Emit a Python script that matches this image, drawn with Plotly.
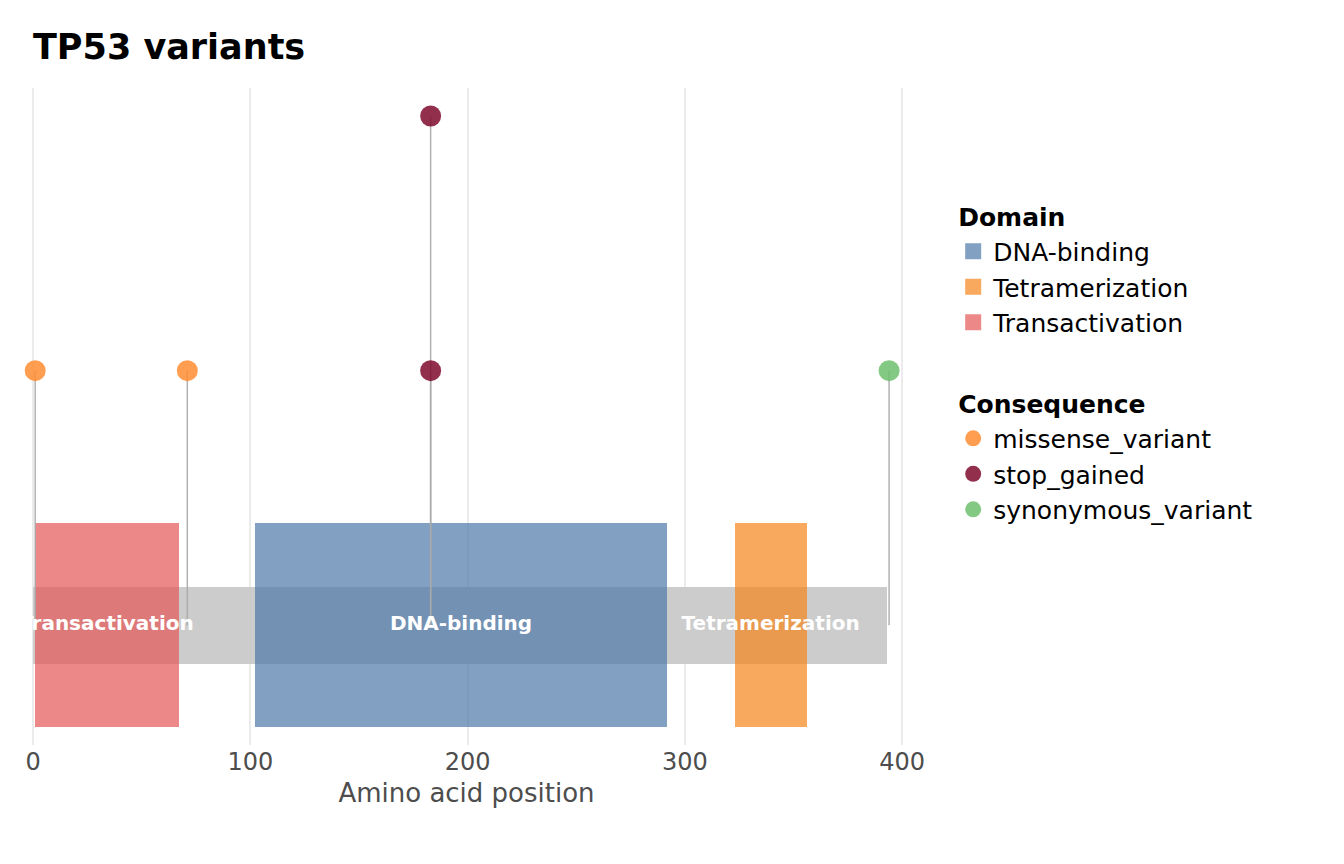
import plotly.graph_objects as go

protein_length = 393
domain_names = ["Transactivation", "DNA-binding", "Tetramerization"]
domain_start = [1, 102, 323]
domain_end = [67, 292, 356]
domain_colors = {"DNA-binding": "#4C78A8", "Tetramerization": "#F58518", "Transactivation": "#E45756"}

var_pos = [1, 71, 183, 183, 394]
var_height = [1, 1, 1, 2, 1]
var_cons = ["missense_variant", "missense_variant", "stop_gained", "stop_gained", "synonymous_variant"]
cons_colors = {"missense_variant": "#FF8C33", "stop_gained": "#7F0A2E", "synonymous_variant": "#6DBF6D"}

fig = go.Figure()

# protein backbone
fig.add_trace(go.Bar(x=[protein_length / 2], y=[0.3], base=[-0.15], width=[protein_length],
                     marker=dict(color="#CCCCCC", line_width=0), showlegend=False, hoverinfo="skip"))

# domains
for name, s, e in zip(domain_names, domain_start, domain_end):
    fig.add_trace(go.Bar(x=[(s + e) / 2], y=[0.8], base=[-0.4], width=[e - s],
                         marker=dict(color=domain_colors[name], opacity=0.7, line_width=0),
                         showlegend=False, hoverinfo="skip"))

# legend entries for domains
for i, name in enumerate(sorted(domain_names)):
    fig.add_trace(go.Scatter(x=[None], y=[None], mode="markers", name=name,
                             marker=dict(color=domain_colors[name], opacity=0.7, symbol="square", size=30),
                             legendgroup="domain", legendrank=i,
                             legendgrouptitle=dict(text="<b>Domain</b>") if i == 0 else None))

# stems
for p, h in zip(var_pos, var_height):
    fig.add_trace(go.Scatter(x=[p, p], y=[0, h], mode="lines", line=dict(color="#AAAAAA", width=1.5),
                             showlegend=False, hoverinfo="skip", opacity=0.9))

# points
for i, c in enumerate(cons_colors):
    xs = [p for p, k in zip(var_pos, var_cons) if k == c]
    ys = [h for h, k in zip(var_height, var_cons) if k == c]
    fig.add_trace(go.Scatter(x=xs, y=ys, mode="markers", name=c, cliponaxis=False,
                             marker=dict(color=cons_colors[c], size=21, opacity=0.85),
                             legendgroup="cons", legendrank=10 + i,
                             legendgrouptitle=dict(text="<b>Consequence</b>") if i == 0 else None))

# domain labels
fig.add_trace(go.Scatter(x=[(s + e) / 2 for s, e in zip(domain_start, domain_end)], y=[0] * 3,
                         mode="text", text=["<b>%s</b>" % n for n in domain_names],
                         textfont=dict(color="white", size=20), showlegend=False, hoverinfo="skip"))

fig.update_layout(
    title=dict(text="<b>TP53 variants</b>", x=25 / 1336, xanchor="left", y=1 - 39 / 856, yanchor="middle",
               font=dict(size=35, color="black")),
    barmode="overlay", bargap=0,
    plot_bgcolor="white", paper_bgcolor="white",
    font=dict(family="DejaVu Sans", size=24, color="black"),
    width=1336, height=856,
    margin=dict(l=12, r=431, t=80, b=119),
    legend=dict(x=1.045, y=0.84, yanchor="top", tracegroupgap=45, font=dict(size=25),
                grouptitlefont=dict(size=25), itemsizing="trace"),
    xaxis=dict(range=[-6, 405], tickvals=[0, 100, 200, 300, 400], showgrid=True, gridcolor="#EBEBEB",
               gridwidth=1.5, zeroline=False,
               title=dict(text="Amino acid position", font=dict(size=26, color="#4D4D4D"), standoff=8),
               tickfont=dict(size=24, color="#4D4D4D"), ticks=""),
    yaxis=dict(range=[-0.47, 2.11], showgrid=False, zeroline=False, showticklabels=False),
)

fig.write_html("out.html")
